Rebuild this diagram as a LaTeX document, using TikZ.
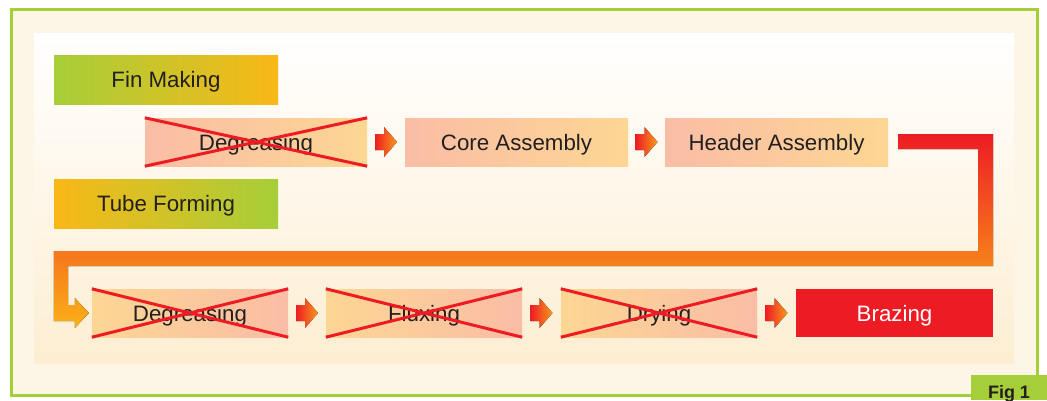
\documentclass[tikz,border=0pt]{standalone}
\usepackage{fontspec}
\setmainfont{Liberation Sans}
\usetikzlibrary{calc}
\definecolor{lgreen}{HTML}{A6CE39}
\definecolor{gold}{HTML}{F9B817}
\definecolor{salmon}{HTML}{FABDA6}
\definecolor{peach}{HTML}{FDD693}
\definecolor{xred}{HTML}{ED1C24}
\definecolor{xorange}{HTML}{F47B20}
\definecolor{aorange}{HTML}{F89A1C}
\definecolor{ayellow}{HTML}{FBB117}
\definecolor{cream}{HTML}{FDF5E6}
\definecolor{panelbot}{HTML}{FDEED2}
\definecolor{txt}{HTML}{231F20}
\begin{document}
\begin{tikzpicture}[x=1pt,y=-1pt,
  box/.style={minimum height=48pt, inner sep=0pt, text=txt,
    text height=16pt, text depth=0pt,
    font=\fontsize{22.3}{26}\selectfont},
  gy/.style={box, left color=lgreen, right color=gold, minimum height=49pt},
  yg/.style={box, left color=gold, right color=lgreen, minimum height=49pt},
  sp/.style={box, left color=salmon, right color=peach},
  ps/.style={box, left color=peach, right color=salmon},
  crossline/.style={xred, line width=3pt},
  barrow/.pic={\fill[left color=xred, right color=aorange]
      (-11,-8) -- (-2,-8) -- (-2,-15) -- (11,0) -- (-2,15) -- (-2,8) -- (-11,8) -- cycle;},
  bigshade/.style={top color=xred, middle color=xorange, bottom color=ayellow}
]
\useasboundingbox (0,0) rectangle (1047,400);
\fill[white] (0,0) rectangle (1047,400);
\draw[lgreen, line width=3pt, fill=cream] (11,9) rectangle (1037,395);
\shade[top color=white, bottom color=panelbot] (34,33) rectangle (1014,363);
\fill[lgreen] (971,375) rectangle (1047,400);
\node[anchor=base, text=txt, font=\bfseries\fontsize{18}{20}\selectfont] (fig) at (1009,398) {Fig 1};

% top rows
\node[gy, minimum width=224pt] (fin) at (166,79.5) {Fin Making};
\node[yg, minimum width=224pt] (tube) at (166,203.5) {Tube Forming};
\node[sp, minimum width=222pt] (deg1) at (256,142) {Degreasing};
\node[sp, minimum width=223pt] (core) at (516.5,142) {Core Assembly};
\node[sp, minimum width=223pt] (header) at (776.5,142) {Header Assembly};

% bottom row
\node[ps, minimum width=196pt] (deg2) at (190,313) {Degreasing};
\node[ps, minimum width=196pt] (flux) at (424,313) {Fluxing};
\node[ps, minimum width=196pt] (dry) at (659,313) {Drying};
\node[box, fill=xred, text=white, minimum width=197pt] (braz) at (894.5,313) {Brazing};

% crosses
\foreach \n in {deg1,deg2,flux,dry}{
  \draw[crossline] (\n.north west) -- (\n.south east) (\n.south west) -- (\n.north east);
}

% small arrows
\pic at ($(deg1.east)!0.5!(core.west)$) {barrow};
\pic at ($(core.east)!0.5!(header.west)$) {barrow};
\pic at ($(deg2.east)!0.5!(flux.west)$) {barrow};
\pic at ($(flux.east)!0.5!(dry.west)$) {barrow};
\pic at ($(dry.east)!0.5!(braz.west)$) {barrow};

% big connector
\coordinate (s) at ($(header.east)+(10,0)$);
\coordinate (t) at ($(deg2.west)+(-3,0)$);
\fill[bigshade]
  ($(s)+(0,-8)$) -- ($(braz.east|-s)+(0,-8)$) -- (braz.east|-0,266) -- (68,266)
  -- ($(68,0|-t)+(0,-8)$) -- ($(t)+(-14,-8)$) -- ($(t)+(-14,-15)$) -- (t)
  -- ($(t)+(-14,15)$) -- ($(t)+(-14,8)$) -- ($(fin.west|-t)+(0,8)$)
  -- (fin.west|-0,251) -- ($(braz.east|-0,251)+(-15,0)$)
  -- ($(braz.east|-s)+(-15,7)$) -- ($(s)+(0,7)$) -- cycle;
\end{tikzpicture}
\end{document}
